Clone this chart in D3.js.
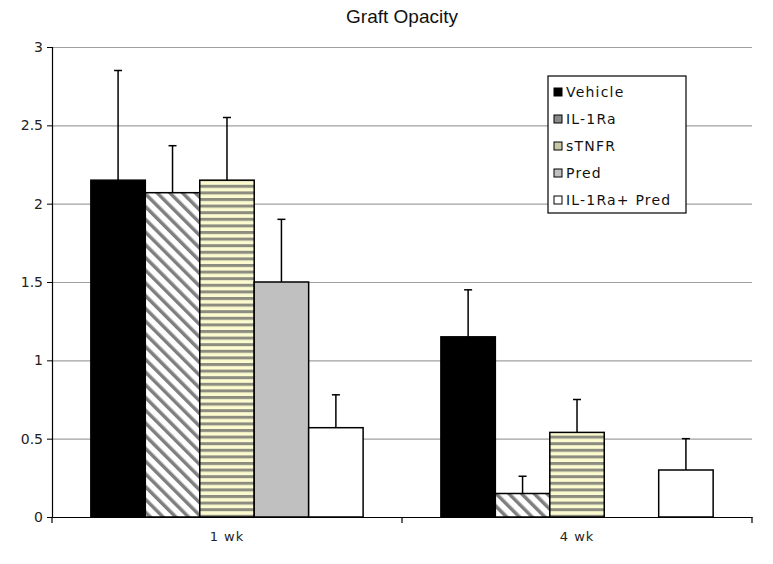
<!DOCTYPE html>
<html><head><meta charset="utf-8">
<script src="https://cdn.jsdelivr.net/npm/d3@7"></script>
<style>body{margin:0;background:#fff}svg{display:block}</style>
</head><body>
<script>
const categories = ["1 wk", "4 wk"];
const seriesNames = ["Vehicle", "IL-1Ra", "sTNFR", "Pred", "IL-1Ra+ Pred"];
const means = {
  "Vehicle":      [2.15, 1.15],
  "IL-1Ra":       [2.07, 0.15],
  "sTNFR":        [2.15, 0.54],
  "Pred":         [1.50, 0],
  "IL-1Ra+ Pred": [0.57, 0.30]
};
const errTops = {
  "Vehicle":      [2.85, 1.45],
  "IL-1Ra":       [2.37, 0.26],
  "sTNFR":        [2.55, 0.75],
  "Pred":         [1.90, null],
  "IL-1Ra+ Pred": [0.78, 0.50]
};
const yTicks = [0, 0.5, 1, 1.5, 2, 2.5, 3];
const title = "Graft Opacity";

(function(){
const W = 773, H = 564;
const svg = d3.select("body").append("svg").attr("width", W).attr("height", H);
const defs = svg.append("defs");
const pd = defs.append("pattern").attr("id","diag").attr("patternUnits","userSpaceOnUse")
  .attr("width",9).attr("height",9).attr("patternTransform","rotate(-45)");
pd.append("rect").attr("width",9).attr("height",9).attr("fill","#fff");
pd.append("rect").attr("width",3.5).attr("height",9).attr("fill","#7f7f7f");
const ph = defs.append("pattern").attr("id","hstripe").attr("patternUnits","userSpaceOnUse")
  .attr("width",6).attr("height",6.6);
ph.append("rect").attr("width",6).attr("height",6.6).attr("fill","#fbfbcf");
ph.append("rect").attr("y",0).attr("width",6).attr("height",3).attr("fill","#8c8c80");

const fills = {
  "Vehicle": "#000",
  "IL-1Ra": "url(#diag)",
  "sTNFR": "url(#hstripe)",
  "Pred": "#c0c0c0",
  "IL-1Ra+ Pred": "#fff"
};

const mLeft = 52, mRight = 752, mTop = 47, mBottom = 517;
const y = d3.scaleLinear().domain([0,3]).range([mBottom, mTop]);
const x0 = d3.scaleBand().domain(categories).range([mLeft, mRight]).paddingInner(0.2222).paddingOuter(0.111);
const x1 = d3.scaleBand().domain(seriesNames).range([0, x0.bandwidth()]);

svg.append("g").selectAll("line").data(yTicks.filter(d=>d>0)).join("line")
  .attr("x1", mLeft).attr("x2", mRight).attr("y1", d=>y(d)+0.5).attr("y2", d=>y(d)+0.5)
  .attr("stroke","#a0a0a0").attr("stroke-width",1.2);

const rows = [];
categories.forEach((c,i)=>seriesNames.forEach(s=>rows.push({c, s, v: means[s][i], e: errTops[s][i]})));
svg.append("g").selectAll("rect").data(rows.filter(d=>d.v>0)).join("rect")
  .attr("x", d=>x0(d.c)+x1(d.s)).attr("width", x1.bandwidth())
  .attr("y", d=>y(d.v)).attr("height", d=>y(0)-y(d.v))
  .attr("fill", d=>fills[d.s]).attr("stroke","#000").attr("stroke-width",1.5);

const eg = svg.append("g").attr("stroke","#000").attr("stroke-width",1.5);
rows.filter(d=>d.e!=null && d.v>0).forEach(d=>{
  const cx = x0(d.c)+x1(d.s)+x1.bandwidth()/2;
  eg.append("line").attr("x1",cx).attr("x2",cx).attr("y1",y(d.v)).attr("y2",y(d.e));
  eg.append("line").attr("x1",cx-4).attr("x2",cx+4).attr("y1",y(d.e)).attr("y2",y(d.e));
});

const ya = svg.append("g").attr("transform",`translate(${mLeft},0)`)
  .call(d3.axisLeft(y).tickValues(yTicks).tickSize(5).tickPadding(4).tickFormat(d3.format("")));
ya.select(".domain").attr("stroke","#000").attr("stroke-width",1.2);
ya.selectAll(".tick line").attr("stroke","#000");
ya.selectAll("text").attr("font-family","Verdana, 'DejaVu Sans', sans-serif").attr("font-size",14).attr("fill","#222");

const xa = svg.append("g").attr("transform",`translate(0,${mBottom})`)
  .call(d3.axisBottom(x0).tickSize(0).tickPadding(15));
xa.select(".domain").attr("stroke","#000").attr("stroke-width",1.2);
xa.selectAll("text").attr("font-family","Verdana, 'DejaVu Sans', sans-serif").attr("font-size",13)
  .attr("letter-spacing",1).attr("fill","#222");
const sepTicks = [mLeft, (x0(categories[0])+x0.bandwidth()+x0(categories[1]))/2, mRight];
svg.append("g").selectAll("line").data(sepTicks).join("line")
  .attr("x1",d=>d).attr("x2",d=>d).attr("y1",mBottom).attr("y2",mBottom+6)
  .attr("stroke","#000").attr("stroke-width",1.2);

svg.append("text").attr("x",402).attr("y",23).attr("text-anchor","middle")
  .attr("font-family","'Liberation Sans', Arial, sans-serif").attr("font-size",19).attr("fill","#111").text(title);

const lg = svg.append("g").attr("transform","translate(548,76)");
lg.append("rect").attr("width",138).attr("height",137).attr("fill","#fff").attr("stroke","#000").attr("stroke-width",1.2);
const swatch = {"Vehicle":"#000","IL-1Ra":"#8a8a8a","sTNFR":"#c8c8a8","Pred":"#c0c0c0","IL-1Ra+ Pred":"#fff"};
seriesNames.forEach((s,i)=>{
  const yy = 16 + i*27;
  lg.append("rect").attr("x",6).attr("y",yy-4).attr("width",8).attr("height",8)
    .attr("fill", swatch[s]).attr("stroke","#000").attr("stroke-width",1);
  lg.append("text").attr("x",18).attr("y",yy+5).attr("font-family","Verdana, 'DejaVu Sans', sans-serif")
    .attr("font-size",14).attr("letter-spacing",1.2).attr("fill","#111").text(s);
});
})();
</script>
</body></html>
